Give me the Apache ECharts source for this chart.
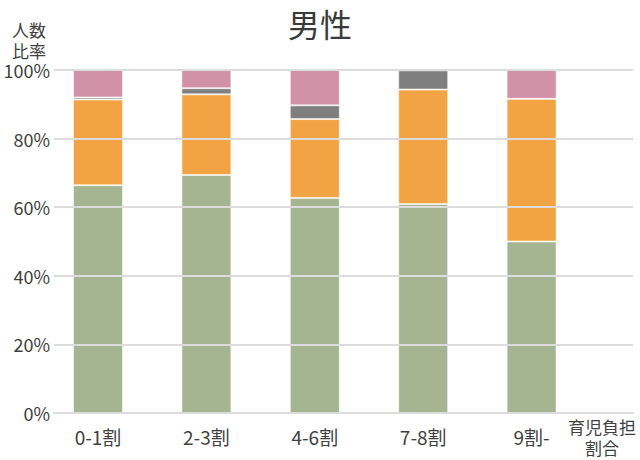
<!DOCTYPE html>
<html>
<head>
<meta charset="utf-8">
<script src="https://cdn.jsdelivr.net/npm/echarts@6/dist/echarts.min.js"></script>
<style>
html,body{margin:0;padding:0;background:#fff;}
#chart{width:640px;height:460px;}
</style>
</head>
<body>
<div id="chart"></div>
<script>
// ---- data ----
var titleText = '男性';
var yAxisName = '人数\n比率';
var xAxisName = '育児負担\n割合';
var categories = ['0-1割', '2-3割', '4-6割', '7-8割', '9割-'];
var seriesGreen  = [66.4, 69.4, 62.7, 60.9, 50.0];
var seriesOrange = [25.0, 23.5, 23.0, 33.4, 41.6];
var seriesGray   = [0.6, 1.8, 4.0, 5.6, 0];
var seriesPink   = [8.0, 5.3, 10.3, 0, 8.4];
var yTicks = [0, 20, 40, 60, 80, 100];

var FONT = '"Noto Sans CJK JP", "Noto Sans", sans-serif';
var TXT = '#404040';
var GRIDC = '#dcdcdc';

function barSeries(name, data, color) {
  return {
    name: name, type: 'bar', stack: 'total', xAxisIndex: 1, yAxisIndex: 1,
    barWidth: 50, data: data, z: 2,
    itemStyle: { color: color, borderColor: 'rgba(255,255,255,0.55)', borderWidth: 1 }
  };
}

var chart = echarts.init(document.getElementById('chart'), null, { renderer: 'svg' });
chart.setOption({
  animation: false,
  textStyle: { fontFamily: FONT },
  title: {
    text: titleText, left: 'center', top: 2,
    textStyle: { fontFamily: FONT, fontSize: 32, fontWeight: 'normal', color: '#3a3a3a' }
  },
  grid: [
    { left: 54, right: 7, top: 70, bottom: 47, containLabel: false },
    { left: 43.8, right: 54.2, top: 70, bottom: 47, containLabel: false }
  ],
  xAxis: [
    {
      gridIndex: 0, type: 'value', min: 0, max: 1, z: 3,
      axisLine: { show: true, lineStyle: { color: GRIDC, width: 2 } },
      axisTick: { show: false }, axisLabel: { show: false }, splitLine: { show: false },
      name: xAxisName, nameLocation: 'end', nameGap: -31,
      nameTextStyle: { fontFamily: FONT, fontSize: 17, color: TXT, align: 'center', verticalAlign: 'top', lineHeight: 21, padding: [3, 0, 0, 0] }
    },
    {
      gridIndex: 1, type: 'category', data: categories,
      axisLine: { show: false }, axisTick: { show: false },
      axisLabel: { fontFamily: FONT, fontSize: 19, color: TXT, margin: 14 },
      splitLine: { show: false }
    }
  ],
  yAxis: [
    {
      gridIndex: 0, type: 'value', min: yTicks[0], max: yTicks[yTicks.length - 1], interval: 20, z: 3,
      axisLine: { show: false }, axisTick: { show: false },
      axisLabel: { formatter: '{value}%', fontFamily: FONT, fontSize: 18, color: TXT, margin: 4 },
      splitLine: { show: true, lineStyle: { color: GRIDC, width: 2 } },
      name: yAxisName, nameLocation: 'end', nameGap: 9,
      nameTextStyle: { fontFamily: FONT, fontSize: 17, color: TXT, align: 'center', verticalAlign: 'bottom', lineHeight: 21, padding: [0, 50, 0, 0] }
    },
    {
      gridIndex: 1, type: 'value', min: 0, max: 100, show: false
    }
  ],
  series: [
    barSeries('0', seriesGreen, '#a5b592'),
    barSeries('1', seriesOrange, '#f2a445'),
    barSeries('2', seriesGray, '#7f7f7f'),
    barSeries('3', seriesPink, '#d191a6')
  ]
});
</script>
</body>
</html>
